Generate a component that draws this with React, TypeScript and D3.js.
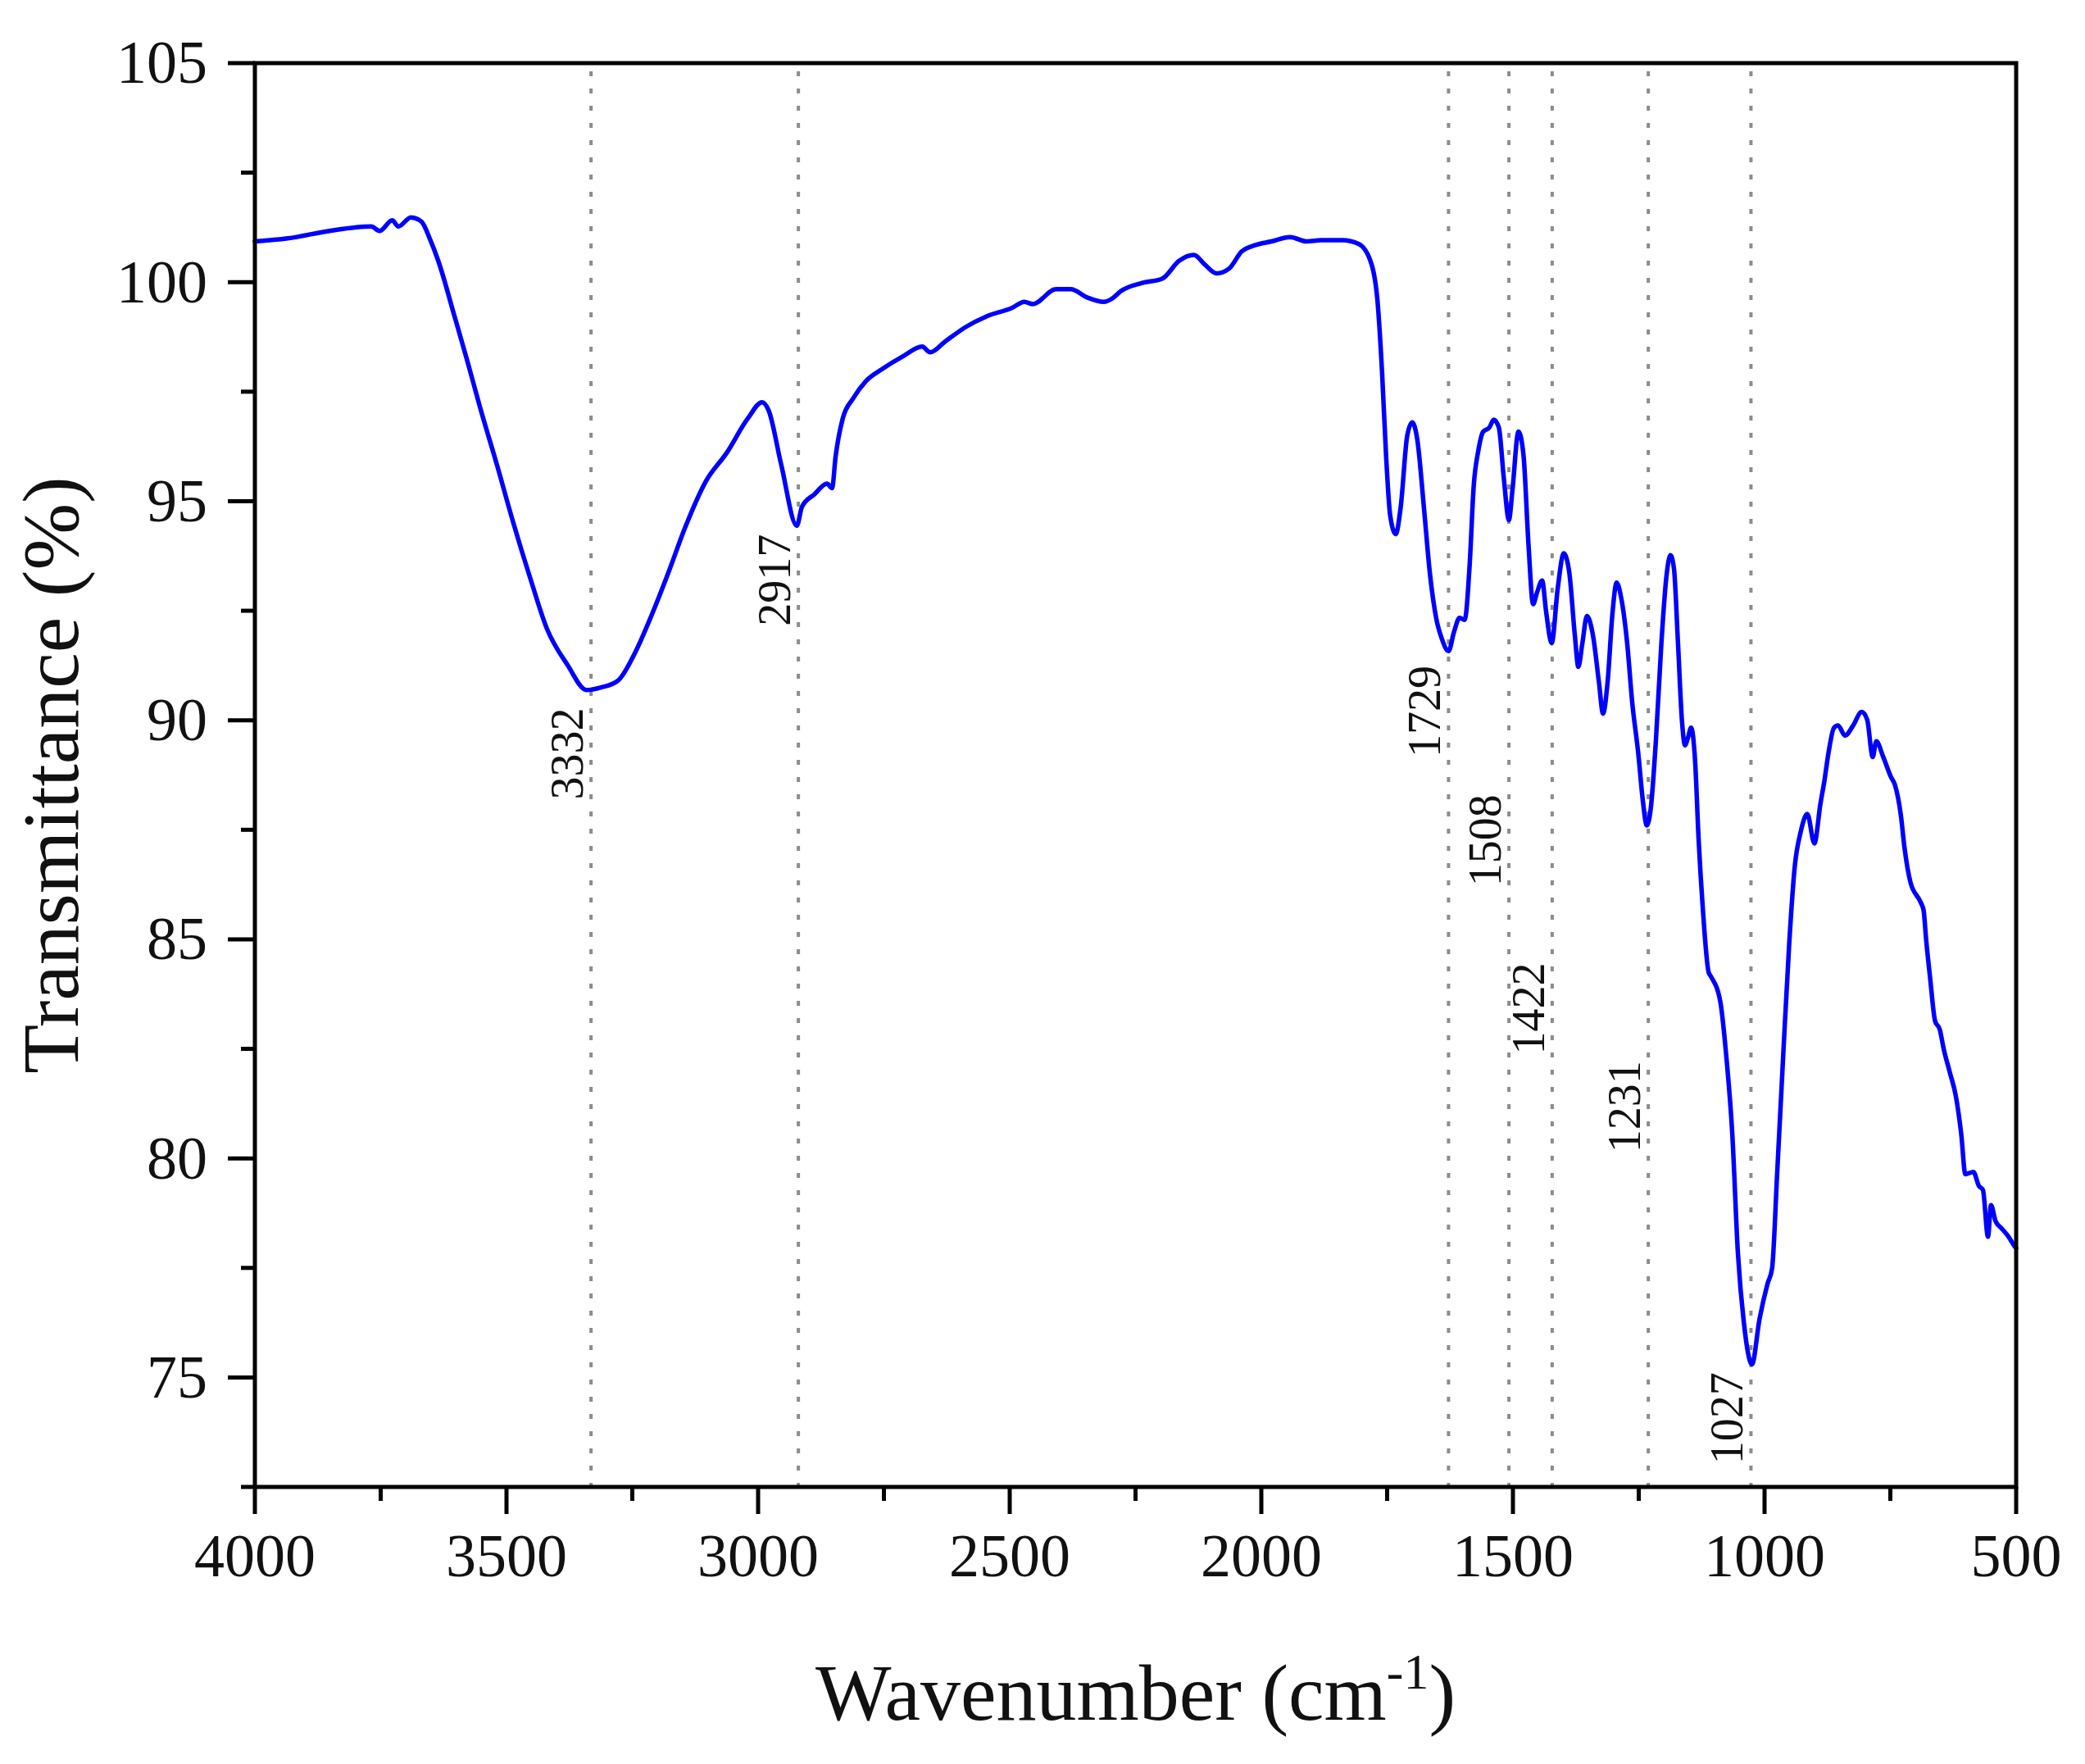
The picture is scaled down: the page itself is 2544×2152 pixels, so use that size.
import React, { useEffect } from "react";
import * as d3 from "d3";

// FTIR spectrum (wavenumber in cm-1, transmittance in %)
const wavenumber = [
  4000, 3935, 3852, 3769, 3752, 3727, 3715, 3690, 3669, 3652, 3636, 3602, 3578,
  3553, 3519, 3486, 3453, 3420, 3378, 3341, 3312, 3278, 3245, 3212, 3179, 3145,
  3104, 3062, 3021, 2992, 2979, 2954, 2923, 2913, 2888, 2863, 2853, 2846, 2832,
  2811, 2786, 2753, 2712, 2674, 2658, 2629, 2587, 2546, 2496, 2471, 2454, 2408,
  2379, 2346, 2313, 2296, 2280, 2238, 2197, 2163, 2134, 2113, 2089, 2064, 2039,
  2014, 1980, 1943, 1910, 1881, 1839, 1806, 1781, 1769, 1760, 1752, 1744, 1733,
  1723, 1710, 1700, 1690, 1677, 1665, 1652, 1641, 1628, 1617, 1606, 1596, 1586,
  1578, 1569, 1559, 1547, 1538, 1528, 1518, 1508, 1501, 1489, 1479, 1469, 1460,
  1452, 1442, 1434, 1423, 1411, 1399, 1388, 1377, 1370, 1362, 1353, 1341, 1329,
  1321, 1312, 1302, 1294, 1284, 1273, 1263, 1251, 1242, 1234, 1226, 1216, 1205,
  1195, 1187, 1180, 1172, 1164, 1158, 1152, 1146, 1138, 1131, 1123, 1111, 1107,
  1088, 1076, 1064, 1053, 1041, 1025, 1010, 994, 985, 975, 963, 951, 940, 928,
  915, 901, 889, 881, 873, 862, 854, 840, 824, 807, 796, 785, 778, 764, 749, 741,
  729, 722, 710, 690, 684, 679, 671, 661, 652, 644, 632, 620, 609, 601, 585, 574,
  566, 556, 550, 541, 528, 515, 503, 500,
];
const transmittance = [
  100.93, 101.0, 101.17, 101.27, 101.17, 101.41, 101.27, 101.48, 101.38, 100.98,
  100.5, 99.17, 98.21, 97.16, 95.83, 94.49, 93.25, 92.1, 91.25, 90.69, 90.75,
  90.91, 91.53, 92.39, 93.35, 94.4, 95.45, 96.11, 96.88, 97.26, 97.07, 95.83,
  94.44, 94.87, 95.16, 95.4, 95.3, 96.02, 96.88, 97.35, 97.74, 98.02, 98.31,
  98.53, 98.4, 98.64, 98.98, 99.22, 99.41, 99.55, 99.5, 99.84, 99.84, 99.65,
  99.55, 99.63, 99.79, 99.98, 100.08, 100.49, 100.62, 100.41, 100.2, 100.31,
  100.7, 100.84, 100.93, 101.03, 100.93, 100.96, 100.96, 100.87, 100.41, 99.55,
  97.93, 96.02, 94.68, 94.25, 94.87, 96.5, 96.8, 96.4, 94.87, 93.35, 92.3, 91.85,
  91.58, 92.02, 92.34, 92.29, 93.55, 95.34, 96.14, 96.59, 96.68, 96.86, 96.68,
  95.51, 94.57, 95.25, 96.59, 96.05, 93.99, 92.65, 92.92, 93.19, 92.47, 91.76,
  93.01, 93.81, 93.37, 91.94, 91.22, 91.76, 92.38, 91.94, 90.86, 90.15, 90.86,
  92.47, 93.14, 92.74, 91.76, 90.41, 89.25, 88.18, 87.6, 88.0, 89.52, 91.76,
  93.28, 93.77, 93.46, 91.76, 89.97, 89.43, 89.61, 89.83, 89.07, 87.28, 85.76,
  84.24, 84.16, 83.58, 82.33, 80.54, 77.85, 76.24, 75.3, 76.33, 77.14, 77.49,
  79.64, 82.33, 84.9, 86.66, 87.46, 87.86, 87.19, 88.09, 88.62, 89.25, 89.83,
  89.88, 89.65, 89.88, 90.19, 90.01, 89.16, 89.52, 89.16, 88.71, 88.53, 87.82,
  87.1, 86.3, 85.85, 85.67, 85.01, 84.12, 83.13, 82.95, 82.5, 81.97, 81.43,
  80.54, 79.64, 79.69, 79.37, 79.28, 78.21, 78.93, 78.57, 78.39, 78.21, 77.99,
  77.95,
];

// peak annotations: printed label, where the dashed marker is drawn, and
// the transmittance at which the rotated label starts
const peakLabels = ["3332", "2917", "1729", "1508", "1422", "1231", "1027"];
const peakMarkers = [3332, 2920, 1628, 1508, 1422, 1231, 1027];
const peakLabelStart = [88.19, 92.15, 89.15, 86.21, 82.37, 80.13, 73.02];

const xMajorTicks = [4000, 3500, 3000, 2500, 2000, 1500, 1000, 500];
const xMinorTicks = [3750, 3250, 2750, 2250, 1750, 1250, 750];
const yMajorTicks = [75, 80, 85, 90, 95, 100, 105];
const yMinorTicks = [72.5, 77.5, 82.5, 87.5, 92.5, 97.5, 102.5];

const W = 2544;
const H = 2152;
const FONT = "'Liberation Serif', 'Times New Roman', serif";

const App: React.FC = () => {
  useEffect(() => {
    document.body.style.margin = "0";
  }, []);

  const left = 311;
  const right = 2460;
  const top = 77;
  const bottom = 1814;

  const x = d3.scaleLinear().domain([4000, 500]).range([left, right]);
  const y = d3.scaleLinear().domain([72.5, 105]).range([bottom, top]);

  const points: [number, number][] = wavenumber.map((w, i) => [
    w,
    transmittance[i],
  ]);
  // smooth through the read points (pixel x grows left to right)
  const line = d3
    .line<[number, number]>()
    .x((d) => x(d[0]))
    .y((d) => y(d[1]))
    .curve(d3.curveMonotoneX);

  const majorLen = 33;
  const minorLen = 17;

  return (
    <svg
      width={W}
      height={H}
      viewBox={`0 0 ${W} ${H}`}
      style={{ display: "block", background: "#fff" }}
      fontFamily={FONT}
    >
      <rect width={W} height={H} fill="#fff" />

      {/* dashed peak markers */}
      {peakMarkers.map((p, i) => (
        <line
          key={"m" + i}
          x1={x(p)}
          x2={x(p)}
          y1={top + 10}
          y2={bottom}
          stroke="#8c8c8c"
          strokeWidth={4}
          strokeDasharray="6 15"
        />
      ))}

      {/* spectrum */}
      <path
        d={line(points) ?? ""}
        fill="none"
        stroke="#0000ff"
        strokeWidth={5.5}
        strokeLinejoin="round"
        strokeLinecap="round"
      />

      {/* peak labels */}
      {peakLabels.map((lab, i) => (
        <text
          key={"l" + i}
          transform={`translate(${x(peakMarkers[i]) - 10},${y(
            peakLabelStart[i],
          )}) rotate(-90)`}
          fontSize={56}
          fill="#111"
        >
          {lab}
        </text>
      ))}

      {/* frame */}
      <rect
        x={left}
        y={top}
        width={right - left}
        height={bottom - top}
        fill="none"
        stroke="#000"
        strokeWidth={5}
      />

      {/* y ticks */}
      {yMajorTicks.map((t) => (
        <g key={"ym" + t}>
          <line
            x1={left - majorLen}
            x2={left}
            y1={y(t)}
            y2={y(t)}
            stroke="#000"
            strokeWidth={5}
          />
          <text
            x={left - 58}
            y={y(t)}
            dy="0.33em"
            textAnchor="end"
            fontSize={74}
            fill="#111"
          >
            {t}
          </text>
        </g>
      ))}
      {yMinorTicks.map((t) => (
        <line
          key={"yn" + t}
          x1={left - minorLen}
          x2={left}
          y1={y(t)}
          y2={y(t)}
          stroke="#000"
          strokeWidth={5}
        />
      ))}

      {/* x ticks */}
      {xMajorTicks.map((t) => (
        <g key={"xm" + t}>
          <line
            x1={x(t)}
            x2={x(t)}
            y1={bottom}
            y2={bottom + majorLen}
            stroke="#000"
            strokeWidth={5}
          />
          <text
            x={x(t)}
            y={1923}
            textAnchor="middle"
            fontSize={74}
            fill="#111"
          >
            {t}
          </text>
        </g>
      ))}
      {xMinorTicks.map((t) => (
        <line
          key={"xn" + t}
          x1={x(t)}
          x2={x(t)}
          y1={bottom}
          y2={bottom + minorLen}
          stroke="#000"
          strokeWidth={5}
        />
      ))}

      {/* axis titles */}
      <text
        x={(left + right) / 2}
        y={2098}
        textAnchor="middle"
        fontSize={98}
        fill="#111"
      >
        Wavenumber (cm
        <tspan dy={-38} fontSize={62}>
          -1
        </tspan>
        <tspan dy={38}>)</tspan>
      </text>
      <text
        transform={`translate(95,${(top + bottom) / 2}) rotate(-90)`}
        textAnchor="middle"
        fontSize={98}
        fill="#111"
      >
        Transmittance (%)
      </text>
    </svg>
  );
};

export default App;
